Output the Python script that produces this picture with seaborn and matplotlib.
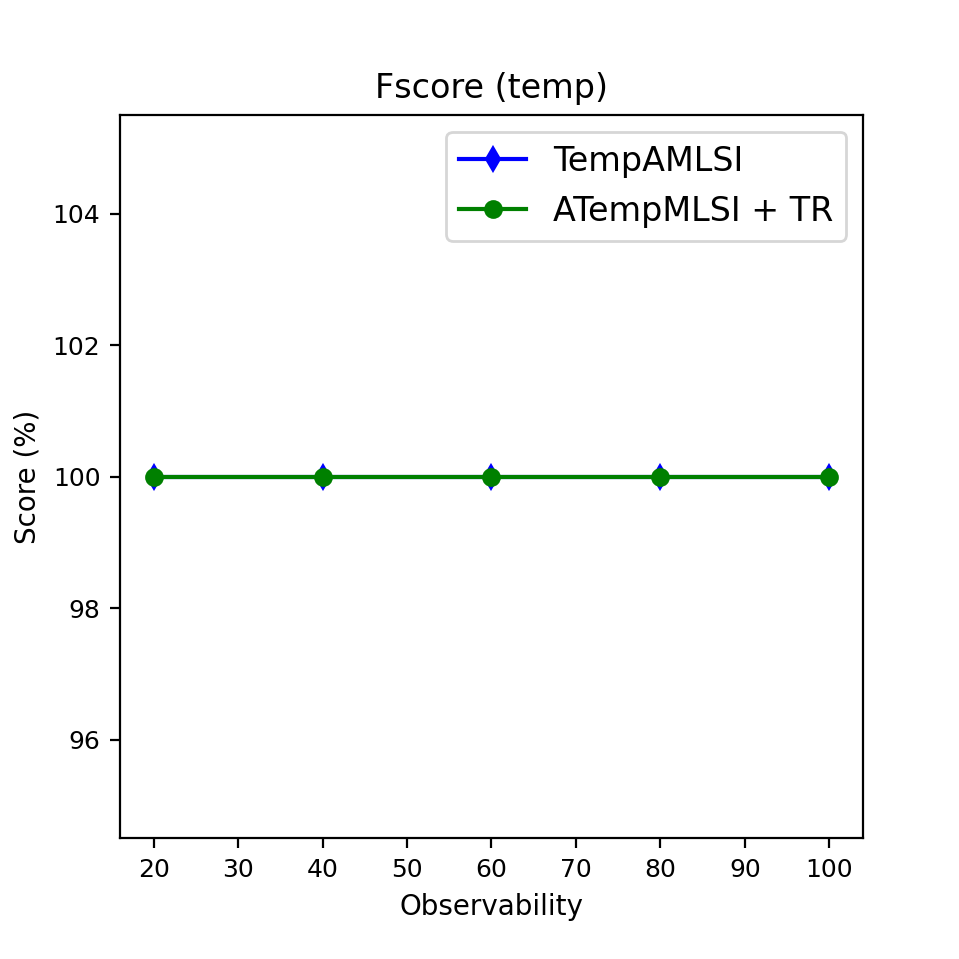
import matplotlib
matplotlib.use('Agg')
import matplotlib.pyplot as plt
import seaborn as sns

# Data
observability = [20, 40, 60, 80, 100]
temp_amlsi = [100, 100, 100, 100, 100]
atemp_tr = [100, 100, 100, 100, 100]

plt.rcParams['font.family'] = ['DejaVu Sans']

fig, ax = plt.subplots(figsize=(4.795, 4.795), dpi=200)
fig.subplots_adjust(left=0.125, right=0.9, top=0.88, bottom=0.126)

sns.lineplot(x=observability, y=temp_amlsi, color='blue', marker='d',
             markersize=6, markeredgecolor='blue', linewidth=1.5,
             label='TempAMLSI', ax=ax)
sns.lineplot(x=observability, y=atemp_tr, color='green', marker='o',
             markersize=6, markeredgecolor='green', linewidth=1.5,
             label='ATempMLSI + TR', ax=ax)

ax.set_xlabel('Observability', fontsize=10)
ax.set_ylabel('Score (%)', fontsize=10)
ax.set_title('Fscore (temp)', fontsize=12)
ax.tick_params(labelsize=9)
ax.legend(loc='upper right', fontsize=12)

plt.savefig('out.png', dpi=200)
